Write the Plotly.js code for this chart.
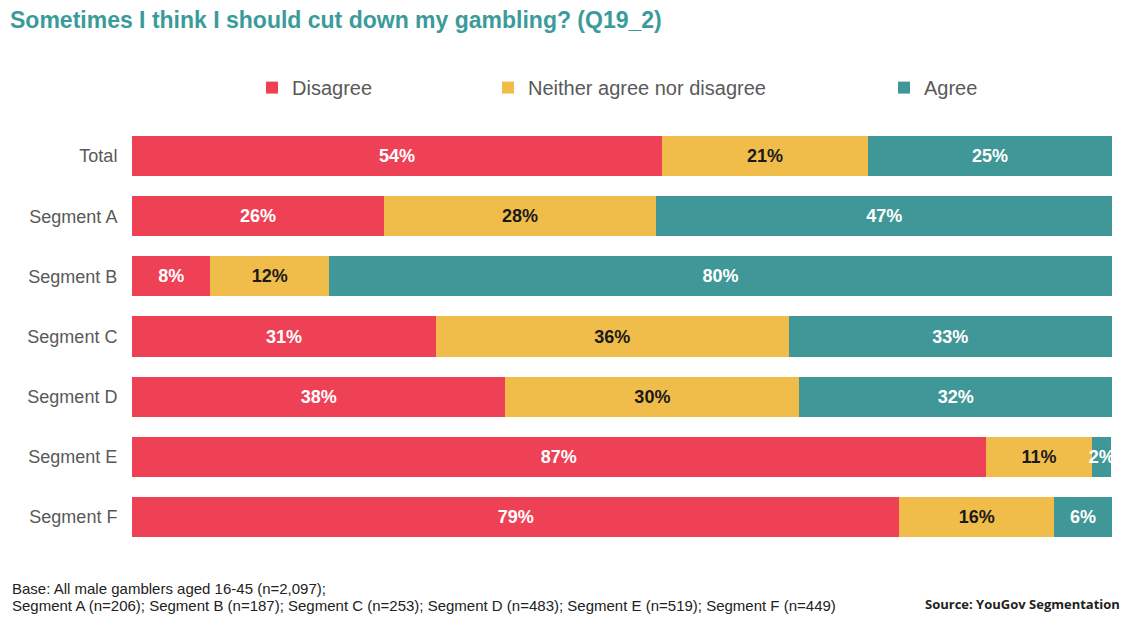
<!DOCTYPE html>
<html><head><meta charset="utf-8">
<script src="https://cdn.plot.ly/plotly-3.0.1.min.js"></script>
<style>html,body{margin:0;padding:0;background:#fff;}#chart{width:1126px;height:617px;}</style>
</head><body><div id="chart"></div>
<script>
const categories = ["Total","Segment A","Segment B","Segment C","Segment D","Segment E","Segment F"];
const disagree = [54.1, 25.7, 8.0, 31.0, 38.1, 87.1, 78.3];
const neither  = [21.0, 27.8, 12.1, 36.0, 30.0, 10.9, 15.8];
const agree    = [24.9, 46.5, 79.9, 33.0, 31.9, 1.9, 5.9];
const disagreeLabels = ["54%","26%","8%","31%","38%","87%","79%"];
const neitherLabels  = ["21%","28%","12%","36%","30%","11%","16%"];
const agreeLabels    = ["25%","47%","80%","33%","32%","2%","6%"];

const W = 1126, H = 617, L = 132, R = 14, T = 125.5, B = 69.5;
const pw = W - L - R, ph = H - T - B;
const px = v => (v - L) / pw;
const py = v => (H - B - v) / ph;

function bar(name, x, text, color, txtColor, legend){
  return {type:'bar', orientation:'h', name:name, y:categories, x:x, text:text,
    textposition:'inside', insidetextanchor:'middle', constraintext:'none', textangle:0,
    textfont:{family:'Liberation Sans, Arial', size:18, color:txtColor, weight:'bold'},
    marker:{color:color, line:{width:0}}, hoverinfo:'none', legend:legend, cliponaxis:true};
}
const data = [
  bar('Disagree', disagree, disagreeLabels, '#EF4156', '#ffffff', 'legend'),
  bar('Neither agree nor disagree', neither, neitherLabels, '#F1BD4A', '#1a1a1a', 'legend2'),
  bar('Agree', agree, agreeLabels, '#409797', '#ffffff', 'legend3')
];
const legFont = {family:'Liberation Sans, Arial', size:20, color:'#595959'};
function leg(xp){ return {x:px(xp), y:py(87), xanchor:'left', yanchor:'middle', orientation:'h', font:legFont, bgcolor:'rgba(0,0,0,0)', itemclick:false}; }
const layout = {
  width:W, height:H, margin:{l:L, r:R, t:T, b:B},
  paper_bgcolor:'#fff', plot_bgcolor:'#fff',
  barmode:'stack', bargap:0.333,
  showlegend:true,
  legend:leg(252), legend2:leg(488), legend3:leg(884),
  title:{text:'<b>Sometimes I think I should cut down my gambling? (Q19_2)</b>', xref:'container', yref:'container', x:10/W, xanchor:'left', y:1-20/H, yanchor:'middle',
    font:{family:'Liberation Sans, Arial', size:23, color:'#3B9B9B'}},
  xaxis:{range:[0,100], showgrid:false, zeroline:false, showticklabels:false, fixedrange:true},
  yaxis:{type:'category', categoryarray:categories, autorange:'reversed', showgrid:false, zeroline:false,
    ticks:'outside', ticklen:10, tickcolor:'rgba(0,0,0,0)', tickfont:{family:'Liberation Sans, Arial', size:18, color:'#595959'}},
  annotations:[
    {text:'Base: All male gamblers aged 16-45 (n=2,097);', xref:'paper', yref:'paper', x:px(10), y:py(589), xanchor:'left', yanchor:'middle', showarrow:false,
      font:{family:'Liberation Sans, Arial', size:15, color:'#222'}},
    {text:'Segment A (n=206); Segment B (n=187); Segment C (n=253); Segment D (n=483); Segment E (n=519); Segment F (n=449)', xref:'paper', yref:'paper', x:px(10), y:py(606), xanchor:'left', yanchor:'middle', showarrow:false,
      font:{family:'Liberation Sans, Arial', size:15, color:'#222'}},
    {text:'<b>Source: YouGov Segmentation</b>', xref:'paper', yref:'paper', x:px(1122), y:py(605), xanchor:'right', yanchor:'middle', showarrow:false,
      font:{family:'Open Sans', size:13, color:'#222'}}
  ]
};
Plotly.newPlot('chart', data, layout, {displayModeBar:false, staticPlot:true});
</script></body></html>
